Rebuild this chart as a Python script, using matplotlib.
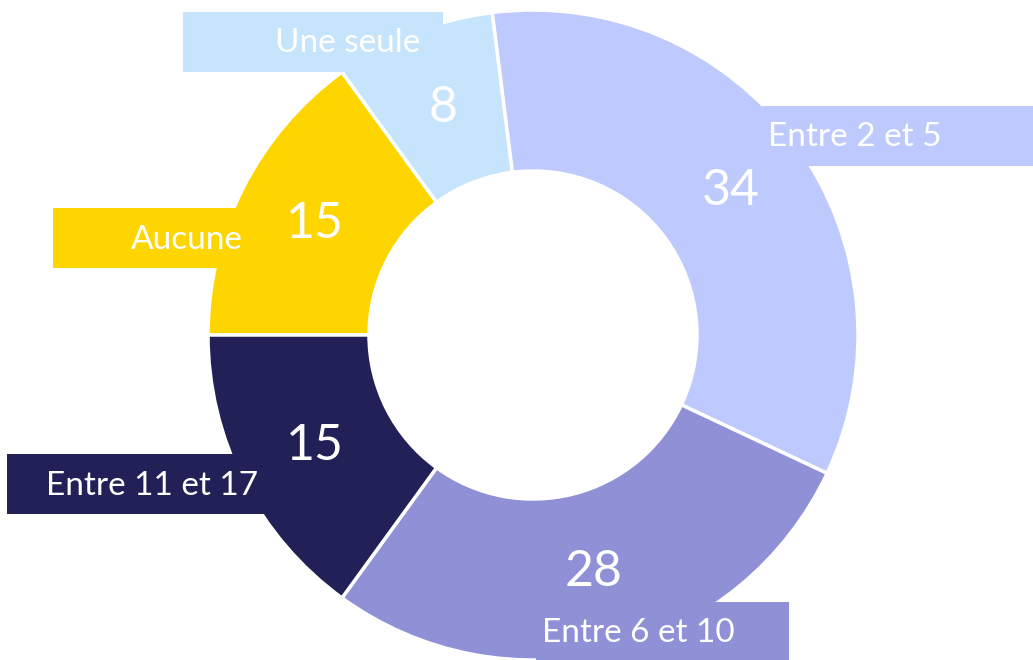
import numpy as np
import matplotlib.pyplot as plt
from matplotlib.patches import Rectangle

categories = ['Aucune', 'Une seule', 'Entre 2 et 5', 'Entre 6 et 10', 'Entre 11 et 17']
values = [15, 8, 34, 28, 15]
colors = ['#FFD500', '#C7E4FD', '#BECAFE', '#8F90D6', '#212157']

W, H = 1033, 660
plt.rcParams['font.family'] = ['Lato', 'DejaVu Sans']

fig = plt.figure(figsize=(W / 100, H / 100), dpi=100)
ax = fig.add_axes([0, 0, 1, 1])

# label boxes (pixel coords, y from top): x0, x1, y0, y1, text x, text y
boxes = {
  'Aucune': (53, 320, 208, 268, 187, 240),
  'Une seule': (183, 443, 12, 72, 348, 43),
  'Entre 2 et 5': (762, 1040, 106, 166, 855, 137),
  'Entre 6 et 10': (536, 789, 602, 665, 638, 633),
  'Entre 11 et 17': (7, 300, 454, 514, 152, 486),
}

cx, cy, r_out, r_in = 533, H - 335, 325, 164
wedges, texts = ax.pie(values, colors=colors, startangle=180, counterclock=False,
                       center=(cx, cy), radius=r_out,
                       wedgeprops=dict(width=r_out - r_in, edgecolor='white', linewidth=2.5))
for w in wedges:
  w.set_zorder(1)

# boxes sit over the ring so the outer white outline disappears under them
for cat, col in zip(categories, colors):
  x0, x1, y0, y1, tx, ty = boxes[cat]
  ax.add_patch(Rectangle((x0, H - y1), x1 - x0, y1 - y0, color=col, lw=0, zorder=2))
  ax.text(tx, H - ty, cat, color='white', fontsize=24, ha='center', va='center', zorder=3)

ang = 180.0
rr = (r_out + r_in) / 2
for v in values:
  mid = np.deg2rad(ang - v * 3.6 / 2)
  ax.text(cx + rr * np.cos(mid), cy + rr * np.sin(mid), str(v), color='white',
          fontsize=36, ha='center', va='center', zorder=3)
  ang -= v * 3.6

ax.set_xlim(0, W)
ax.set_ylim(0, H)
ax.set_aspect('equal')
ax.axis('off')
plt.savefig('out.png', dpi=100)
